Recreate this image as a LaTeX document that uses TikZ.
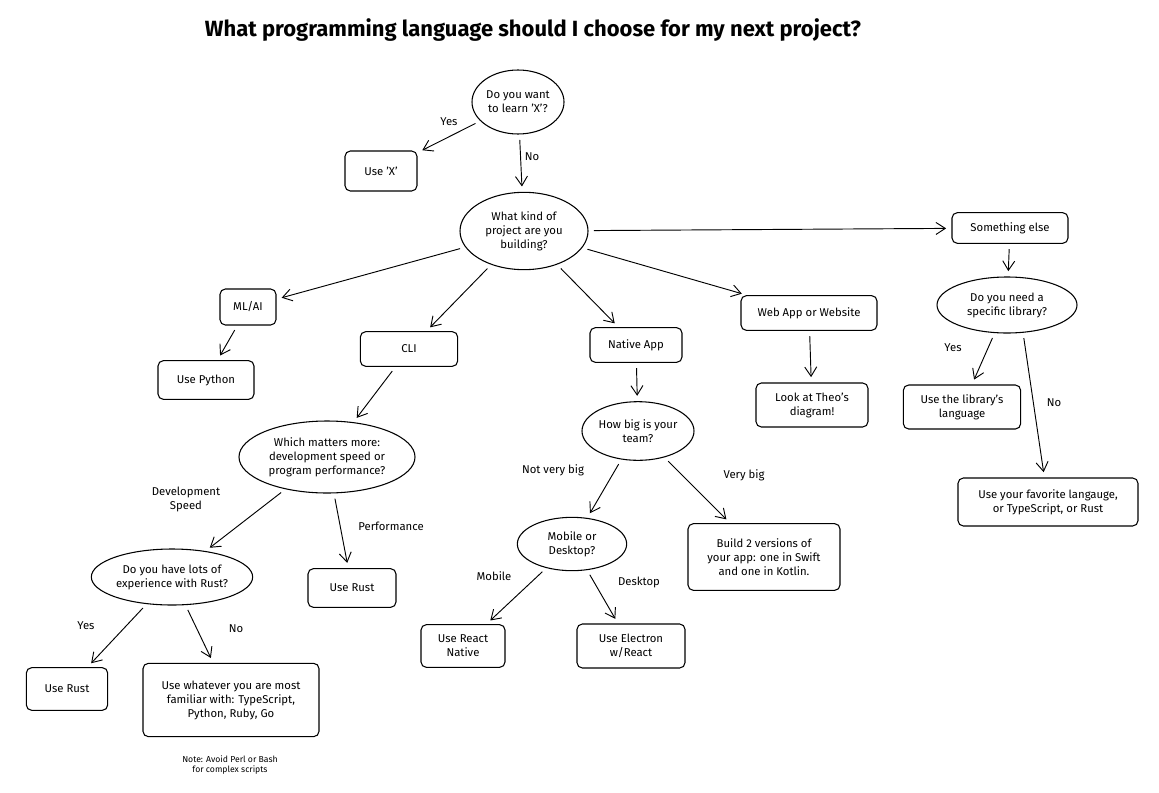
\documentclass[tikz,border=0pt]{standalone}
\usepackage{fontspec}
\setmainfont{Fira Sans}
\usetikzlibrary{shapes.geometric,arrows.meta}
\begin{document}
\begin{tikzpicture}[x=0.75pt,y=-0.75pt,
 box/.style={draw,rounded corners=4pt,line width=0.8pt,align=center,font=\fontsize{8.5}{10.5}\selectfont,inner sep=0pt},
 el/.style={draw,ellipse,line width=0.8pt,align=center,font=\fontsize{8.5}{10.5}\selectfont,inner sep=0pt},
 lab/.style={align=center,font=\fontsize{8.5}{10.5}\selectfont},
 ar/.style={draw,line width=0.7pt,-{Straight Barb[length=7pt,width=9pt]},shorten <=4pt,shorten >=4pt}]
\useasboundingbox (0,0) rectangle (1159,792);
\node[font=\fontsize{16.5}{19}\selectfont\bfseries] (title) at (533,30) {What programming language should I choose for my next project?};
\node[el,minimum width=69pt,minimum height=48pt] (q1) at (518,102) {Do you want\\to learn 'X'?};
\node[box,minimum width=54pt,minimum height=30pt] (useX) at (381,171) {Use 'X'};
\node[el,minimum width=96pt,minimum height=58pt] (q2) at (524,231) {What kind of\\project are you\\building?};
\node[box,minimum width=87pt,minimum height=23pt] (some) at (1010,228) {Something else};
\node[el,minimum width=105pt,minimum height=42pt] (q3) at (1007,305) {Do you need a\\specific library?};
\node[box,minimum width=88pt,minimum height=33pt] (lib) at (962,407) {Use the library's\\language};
\node[box,minimum width=135pt,minimum height=36pt] (fav) at (1048,502) {Use your favorite langauge,\\or TypeScript, or Rust};
\node[box,minimum width=42pt,minimum height=27pt] (ml) at (248,307) {ML/AI};
\node[box,minimum width=72pt,minimum height=29pt] (py) at (206,380) {Use Python};
\node[box,minimum width=73pt,minimum height=26pt] (cli) at (409,349) {CLI};
\node[box,minimum width=69pt,minimum height=26pt] (nat) at (636,345) {Native App};
\node[box,minimum width=102pt,minimum height=26pt] (web) at (809,313) {Web App or Website};
\node[box,minimum width=84pt,minimum height=33pt] (theo) at (812,405) {Look at Theo's\\diagram!};
\node[el,minimum width=84pt,minimum height=44pt] (team) at (638,431) {How big is your\\team?};
\node[el,minimum width=132pt,minimum height=54pt] (q4) at (327,457) {Which matters more:\\development speed or\\program performance?};
\node[box,minimum width=66pt,minimum height=29pt] (r1) at (352,588) {Use Rust};
\node[el,minimum width=121pt,minimum height=42pt] (q5) at (172,577) {Do you have lots of\\experience with Rust?};
\node[box,minimum width=61pt,minimum height=32pt] (r2) at (67,689) {Use Rust};
\node[box,minimum width=132pt,minimum height=55pt] (what) at (231,700) {Use whatever you are most\\familiar with: TypeScript,\\Python, Ruby, Go};
\node[lab,font=\fontsize{6.5}{8}\selectfont] (note) at (230,765) {Note: Avoid Perl or Bash\\for complex scripts};
\node[el,minimum width=82pt,minimum height=40pt] (mob) at (572,544) {Mobile or\\Desktop?};
\node[box,minimum width=114pt,minimum height=50pt] (build) at (764,557) {Build 2 versions of\\your app: one in Swift\\and one in Kotlin.};
\node[box,minimum width=63pt,minimum height=32pt] (rn) at (463,646) {Use React\\Native};
\node[box,minimum width=81pt,minimum height=33pt] (ele) at (631,646) {Use Electron\\w/React};
\draw[ar] (q1) -- (useX);
\draw[ar] (q1) -- (q2);
\draw[ar] (q2) -- (some);
\draw[ar] (q2) -- (ml);
\draw[ar] (q2) -- (cli);
\draw[ar] (q2) -- (nat);
\draw[ar] (q2) -- (web);
\draw[ar] (some) -- (q3);
\draw[ar] (q3) -- (lib);
\draw[ar] (q3.-60) -- (fav);
\draw[ar] (ml) -- (py);
\draw[ar] (web) -- (theo);
\draw[ar] (nat) -- (team);
\draw[ar] (team) -- (mob);
\draw[ar] (team) -- (build);
\draw[ar] (cli) -- (q4);
\draw[ar] (q4) -- (q5);
\draw[ar] (q4) -- (r1);
\draw[ar] (q5) -- (r2);
\draw[ar] (q5) -- (what);
\draw[ar] (mob) -- (rn);
\draw[ar] (mob) -- (ele);
\node[lab] (l1) at (449,122) {Yes};
\node[lab] (l2) at (532,157) {No};
\node[lab] (l3) at (953,348) {Yes};
\node[lab] (l4) at (1054,403) {No};
\node[lab] (l5) at (553,470) {Not very big};
\node[lab] (l6) at (744,475) {Very big};
\node[lab] (l7) at (186,499) {Development\\Speed};
\node[lab] (l8) at (391,526) {Performance};
\node[lab] (l9) at (86,626) {Yes};
\node[lab] (l10) at (236,629) {No};
\node[lab] (l11) at (494,576) {Mobile};
\node[lab] (l12) at (639,582) {Desktop};
\end{tikzpicture}
\end{document}
